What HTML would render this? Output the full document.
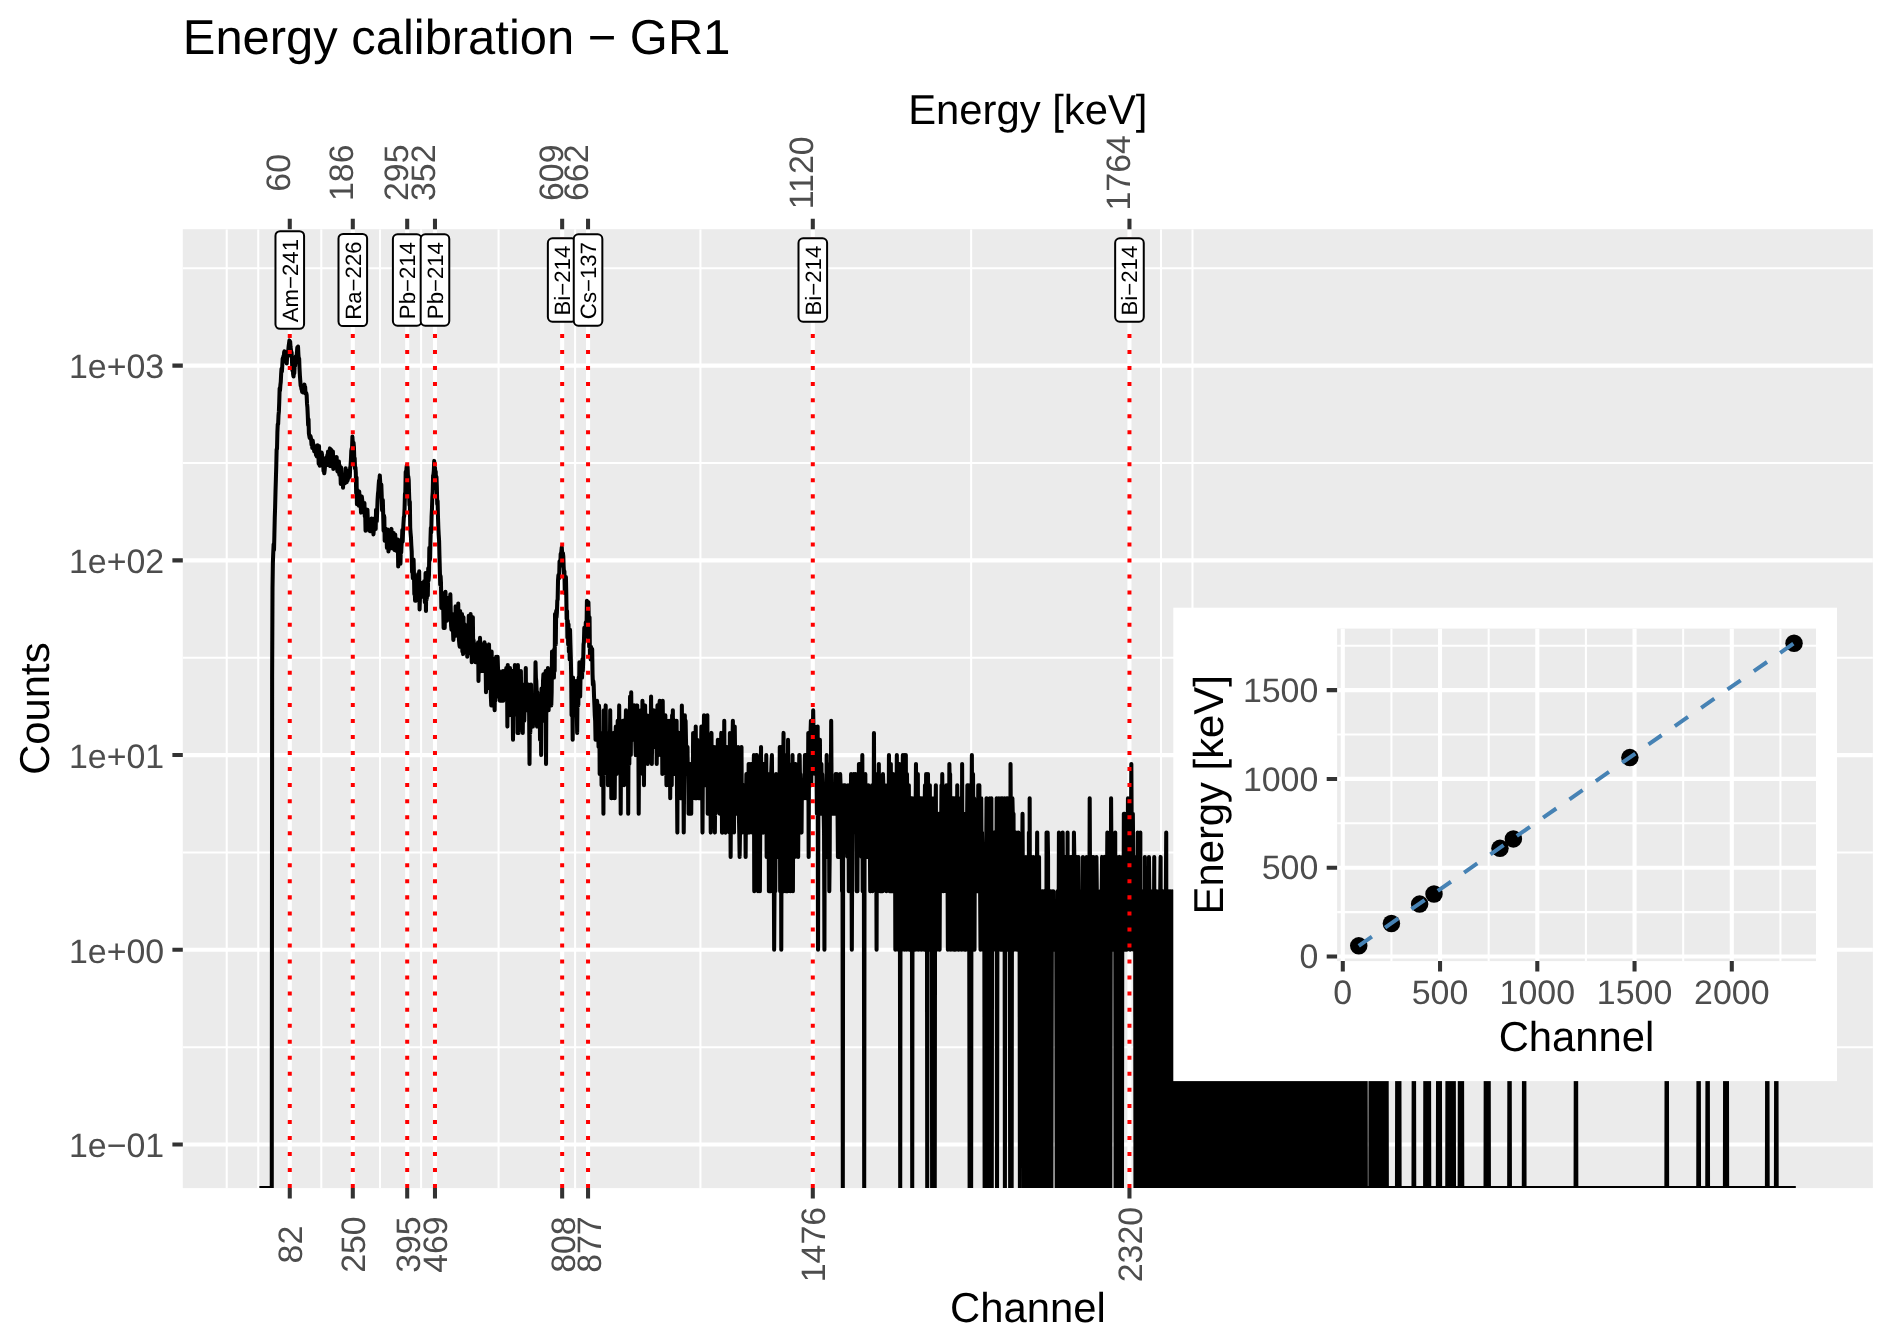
<!DOCTYPE html>
<html lang="en"><head><meta charset="utf-8"><title>Energy calibration - GR1</title>
<style>html,body{margin:0;padding:0;background:#fff;}body{width:1892px;height:1342px;overflow:hidden;font-family:"Liberation Sans",sans-serif;}svg{display:block;will-change:transform;}</style></head>
<body>
<svg width="1892" height="1342" viewBox="0 0 1892 1342" font-family='"Liberation Sans", sans-serif' text-rendering="geometricPrecision">
<rect x="0" y="0" width="1892" height="1342" fill="#ffffff"/>
<defs><clipPath id="pc"><rect x="182.8" y="229.2" width="1690.10" height="958.90"/></clipPath><clipPath id="ic"><rect x="1337.1" y="628.6" width="478.9" height="332.5"/></clipPath></defs>
<rect x="182.8" y="229.2" width="1690.10" height="958.90" fill="#EBEBEB"/>
<g clip-path="url(#pc)">
<path d="M226.73 229.2V1188.1M258.25 229.2V1188.1M321.28 229.2V1188.1M380.00 229.2V1188.1M421.09 229.2V1188.1M498.57 229.2V1188.1M575.11 229.2V1188.1M700.42 229.2V1188.1M971.13 229.2V1188.1M1160.98 229.2V1188.1M1192.50 229.2V1188.1M182.8 268.28H1872.9M182.8 463.00H1872.9M182.8 657.72H1872.9M182.8 852.44H1872.9M182.8 1047.16H1872.9" stroke="#fff" stroke-width="2.05" fill="none"/>
<path d="M289.77 229.2V1188.1M352.80 229.2V1188.1M407.20 229.2V1188.1M434.97 229.2V1188.1M562.16 229.2V1188.1M588.05 229.2V1188.1M812.80 229.2V1188.1M1129.46 229.2V1188.1M182.8 365.64H1872.9M182.8 560.36H1872.9M182.8 755.08H1872.9M182.8 949.80H1872.9M182.8 1144.52H1872.9" stroke="#fff" stroke-width="4.1" fill="none"/>
<path d="M259.38 1188.1L271.76 1188.1L272.13 677.6L272.51 588.1L272.88 562.9L273.26 552.3L273.63 544.2L274.01 550.0L274.38 535.0L274.76 518.0L275.13 507.0L275.51 491.4L275.88 479.2L276.26 466.3L276.63 449.3L277.01 449.0L277.38 432.6L277.76 424.1L278.14 424.1L278.51 415.4L278.89 411.4L279.26 401.7L279.64 388.2L280.01 390.6L280.39 385.1L280.76 382.1L281.14 374.1L281.51 368.7L281.89 371.7L282.26 366.3L282.64 358.5L283.01 362.3L283.39 356.2L283.76 358.0L284.14 352.3L284.51 351.3L284.89 352.5L285.26 351.9L285.64 356.3L286.01 357.7L286.39 356.1L286.76 363.5L287.14 355.7L287.52 355.0L287.89 356.2L288.27 350.5L288.64 346.3L289.02 343.5L289.39 340.4L289.77 341.3L290.14 341.5L290.52 346.8L290.89 349.5L291.27 352.0L291.64 352.5L292.02 361.9L292.39 370.5L292.77 368.9L293.14 374.1L293.52 376.5L293.89 371.9L294.27 373.4L294.64 366.4L295.02 366.1L295.39 362.0L295.77 356.3L296.14 362.1L296.52 360.9L296.90 353.0L297.27 347.6L297.65 349.2L298.02 346.6L298.40 354.6L298.77 359.1L299.15 358.5L299.52 368.6L299.90 375.6L300.27 380.6L300.65 385.6L301.02 386.0L301.40 388.8L301.77 389.6L302.15 391.9L302.52 390.1L302.90 391.1L303.27 392.5L303.65 390.2L304.02 385.6L304.40 384.6L304.77 387.0L305.15 386.9L305.52 393.5L305.90 393.0L306.28 393.0L306.65 395.1L307.03 403.9L307.40 407.3L307.78 415.3L308.15 425.3L308.53 419.3L308.90 433.4L309.28 435.8L309.65 438.0L310.03 437.4L310.40 436.0L310.78 437.4L311.15 439.8L311.53 444.8L311.90 440.8L312.28 447.9L312.65 440.4L313.03 443.1L313.40 447.5L313.78 445.1L314.15 451.1L314.53 447.2L314.90 451.6L315.28 449.7L315.66 451.6L316.03 454.9L316.41 455.4L316.78 456.4L317.16 456.6L317.53 445.3L317.91 457.1L318.28 448.1L318.66 463.6L319.03 446.1L319.41 462.3L319.78 465.8L320.16 456.9L320.53 455.9L320.91 456.4L321.28 462.8L321.66 452.5L322.03 454.7L322.41 462.8L322.78 460.7L323.16 463.1L323.53 471.2L323.91 471.2L324.28 473.3L324.66 470.3L325.04 465.8L325.41 461.7L325.79 459.7L326.16 457.6L326.54 459.7L326.91 459.4L327.29 455.1L327.66 462.0L328.04 451.6L328.41 465.2L328.79 461.2L329.16 462.3L329.54 456.9L329.91 448.4L330.29 466.1L330.66 464.4L331.04 457.9L331.41 449.9L331.79 458.4L332.16 456.6L332.54 460.7L332.91 451.6L333.29 468.9L333.66 464.4L334.04 459.9L334.42 465.5L334.79 466.1L335.17 457.6L335.54 467.2L335.92 460.2L336.29 458.1L336.67 457.1L337.04 468.6L337.42 471.2L337.79 471.8L338.17 464.1L338.54 465.0L338.92 461.5L339.29 474.8L339.67 465.5L340.04 468.6L340.42 474.2L340.79 483.9L341.17 467.5L341.54 474.8L341.92 474.5L342.29 475.1L342.67 474.5L343.04 487.7L343.42 475.1L343.80 476.1L344.17 477.0L344.55 481.2L344.92 483.2L345.30 479.9L345.67 468.3L346.05 482.5L346.42 478.3L346.80 482.2L347.17 475.4L347.55 480.5L347.92 478.6L348.30 470.9L348.67 477.9L349.05 477.3L349.42 473.3L349.80 476.7L350.17 467.7L350.55 465.8L350.92 459.9L351.30 450.9L351.67 448.6L352.05 448.1L352.42 436.6L352.80 442.3L353.18 446.6L353.55 442.7L353.93 447.2L354.30 459.1L354.68 458.1L355.05 468.6L355.43 467.5L355.80 472.7L356.18 493.3L356.55 477.6L356.93 504.3L357.30 496.0L357.68 490.3L358.05 495.2L358.43 498.8L358.80 505.6L359.18 491.4L359.55 496.4L359.93 501.7L360.30 505.2L360.68 505.2L361.05 512.6L361.43 502.2L361.80 496.4L362.18 499.7L362.56 504.3L362.93 502.2L363.31 509.3L363.68 508.3L364.06 508.8L364.43 503.0L364.81 516.5L365.18 513.0L365.56 530.7L365.93 509.3L366.31 510.7L366.68 511.6L367.06 519.6L367.43 509.7L367.81 520.1L368.18 519.6L368.56 526.6L368.93 522.2L369.31 530.7L369.68 521.7L370.06 526.1L370.43 531.3L370.81 521.7L371.18 523.3L371.56 518.5L371.94 525.0L372.31 522.8L372.69 527.2L373.06 522.2L373.44 534.4L373.81 530.1L374.19 518.5L374.56 523.8L374.94 523.8L375.31 524.4L375.69 528.9L376.06 509.7L376.44 513.0L376.81 521.1L377.19 510.7L377.56 500.1L377.94 494.1L378.31 491.0L378.69 484.6L379.06 480.2L379.44 480.2L379.81 475.4L380.19 481.9L380.56 487.4L380.94 496.0L381.32 484.6L381.69 494.8L382.07 510.2L382.44 504.8L382.82 500.1L383.19 514.5L383.57 530.7L383.94 515.5L384.32 517.5L384.69 540.8L385.07 536.2L385.44 528.4L385.82 532.5L386.19 541.5L386.57 538.2L386.94 547.8L387.32 541.5L387.69 529.5L388.07 533.7L388.44 551.5L388.82 536.2L389.19 543.5L389.57 532.5L389.94 543.5L390.32 544.9L390.70 548.5L391.07 535.6L391.45 528.9L391.82 541.5L392.20 538.8L392.57 534.4L392.95 536.2L393.32 546.4L393.70 533.1L394.07 549.3L394.45 550.0L394.82 546.4L395.20 534.4L395.57 540.8L395.95 544.2L396.32 550.8L396.70 540.1L397.07 543.5L397.45 550.8L397.82 539.5L398.20 566.5L398.57 547.1L398.95 550.8L399.32 560.4L399.70 540.8L400.08 554.6L400.45 563.8L400.83 547.1L401.20 552.3L401.58 544.2L401.95 540.8L402.33 530.1L402.70 541.5L403.08 530.7L403.45 523.8L403.83 517.5L404.20 516.0L404.58 508.3L404.95 494.1L405.33 492.2L405.70 471.8L406.08 476.1L406.45 468.6L406.83 465.5L407.20 475.4L407.58 466.9L407.95 476.4L408.33 476.7L408.70 479.9L409.08 493.7L409.46 505.2L409.83 501.7L410.21 527.8L410.58 533.1L410.96 537.5L411.33 545.6L411.71 551.5L412.08 572.1L412.46 568.3L412.83 578.2L413.21 570.2L413.58 559.5L413.96 574.1L414.33 594.2L414.71 587.0L415.08 600.8L415.46 599.4L415.83 600.8L416.21 578.2L416.58 585.8L416.96 589.3L417.33 581.4L417.71 583.6L418.08 574.1L418.46 595.5L418.84 589.3L419.21 571.2L419.59 609.4L419.96 598.1L420.34 590.5L420.71 591.7L421.09 585.8L421.46 595.5L421.84 589.3L422.21 587.0L422.59 596.8L422.96 582.5L423.71 582.5L424.09 581.4L424.46 590.5L424.84 602.2L425.21 598.1L425.59 573.1L425.96 610.9L426.34 578.2L426.71 599.4L427.09 591.7L427.46 573.1L427.84 595.5L428.22 568.3L428.59 580.3L428.97 575.1L429.34 547.8L429.72 560.4L430.09 557.9L430.47 539.5L430.84 527.8L431.22 532.5L431.59 516.5L431.97 508.8L432.34 497.2L432.72 491.8L433.09 475.7L433.47 474.5L433.84 470.6L434.22 460.9L434.59 467.2L434.97 467.7L435.34 473.6L435.72 471.5L436.09 488.1L436.47 476.7L436.84 486.7L437.22 504.3L437.60 500.9L437.97 516.5L438.35 527.8L438.72 535.0L439.10 540.8L439.47 556.2L439.85 570.2L440.22 584.7L440.60 576.1L440.97 582.5L441.35 607.9L441.72 606.4L442.10 603.6L442.47 598.1L442.85 594.2L443.22 607.9L443.60 627.9L443.97 606.4L444.35 593.0L444.72 627.9L445.10 605.0L445.47 591.7L445.85 620.7L446.22 609.4L446.60 606.4L446.98 620.7L447.35 617.3L447.73 598.1L448.10 617.3L448.48 605.0L448.85 609.4L449.23 610.9L449.60 610.9L449.98 599.4L450.35 594.2L450.73 610.9L451.10 626.0L451.48 629.8L451.85 622.4L452.23 614.0L452.60 629.8L452.98 629.8L453.35 640.0L453.73 635.8L454.10 627.9L454.48 626.0L454.85 620.7L455.23 631.7L455.60 606.4L455.98 635.8L456.36 620.7L456.73 612.5L457.11 606.4L457.48 617.3L457.86 615.7L458.23 603.6L458.61 631.7L458.98 640.0L459.36 644.4L459.73 646.8L460.11 610.9L460.48 620.7L460.86 637.8L461.23 617.3L461.61 644.4L461.98 614.0L462.36 651.6L462.73 633.7L463.11 654.1L463.48 617.3L463.86 651.6L464.23 627.9L464.61 624.2L464.98 626.0L465.36 627.9L465.74 635.8L466.11 629.8L466.49 633.7L466.86 635.8L467.24 656.7L467.61 627.9L467.99 631.7L468.36 646.8L468.74 615.7L469.11 633.7L469.49 649.1L469.86 642.2L470.24 651.6L470.61 614.0L470.99 654.1L471.36 629.8L471.74 662.2L472.11 637.8L472.49 656.7L472.86 617.3L473.24 656.7L473.61 640.0L473.99 649.1L474.36 651.6L474.74 644.4L475.12 646.8L475.49 662.2L475.87 654.1L476.24 644.4L476.62 659.4L476.99 662.2L477.37 659.4L477.74 651.6L478.12 642.2L478.49 681.0L478.87 646.8L479.24 671.1L479.62 668.0L479.99 637.8L480.37 649.1L480.74 654.1L481.12 671.1L481.49 651.6L481.87 665.0L482.24 668.0L482.62 644.4L482.99 646.8L483.37 656.7L483.74 651.6L484.12 671.1L484.50 642.2L484.87 662.2L485.25 644.4L485.62 662.2L486.00 692.3L486.37 674.3L486.75 659.4L487.12 668.0L487.50 665.0L487.87 646.8L488.25 674.3L488.62 668.0L489.00 644.4L489.37 665.0L489.75 688.4L490.12 651.6L490.50 665.0L490.87 696.5L491.25 705.4L491.62 651.6L492.00 671.1L492.37 665.0L492.75 684.6L493.12 665.0L493.50 668.0L493.88 659.4L494.25 700.8L494.63 710.2L495.00 688.4L495.38 700.8L495.75 681.0L496.13 656.7L496.50 688.4L496.88 662.2L497.25 677.6L497.63 656.7L498.00 668.0L498.38 696.5L498.75 688.4L499.13 671.1L499.50 674.3L499.88 700.8L500.25 688.4L500.63 700.8L501.00 700.8L501.38 684.6L501.75 696.5L502.13 700.8L502.50 681.0L502.88 671.1L503.26 700.8L503.63 684.6L504.01 671.1L504.38 681.0L504.76 677.6L505.13 681.0L505.51 696.5L505.88 688.4L506.26 668.0L506.63 684.6L507.01 677.6L507.38 726.6L507.76 665.0L508.13 692.3L508.51 715.3L508.88 692.3L509.26 715.3L509.63 692.3L510.01 668.0L510.38 684.6L510.76 688.4L511.13 700.8L511.51 688.4L511.88 692.3L512.26 671.1L512.64 700.8L513.01 739.7L513.39 677.6L513.76 696.5L514.14 696.5L514.51 710.2L514.89 665.0L515.26 700.8L515.64 681.0L516.01 688.4L516.39 668.0L516.76 715.3L517.14 677.6L517.51 732.9L517.89 665.0L518.26 715.3L518.64 732.9L519.01 688.4L519.39 674.3L519.76 720.8L520.14 705.4L520.51 700.8L520.89 671.1L521.26 710.2L521.64 688.4L522.02 688.4L522.39 692.3L522.77 732.9L523.14 696.5L523.52 688.4L523.89 684.6L524.27 720.8L524.64 705.4L525.02 688.4L525.39 700.8L525.77 668.0L526.14 710.2L526.52 700.8L526.89 705.4L527.27 710.2L527.64 700.8L528.02 700.8L528.39 684.6L528.77 692.3L529.14 715.3L529.52 764.0L529.89 705.4L530.27 732.9L530.64 696.5L531.02 684.6L531.40 715.3L531.77 715.3L532.15 700.8L532.52 715.3L532.90 726.6L533.27 705.4L533.65 696.5L534.02 696.5L534.40 715.3L534.77 715.3L535.15 696.5L535.52 662.2L535.90 677.6L536.27 681.0L536.65 692.3L537.02 726.6L537.40 692.3L537.77 720.8L538.15 720.8L538.52 700.8L538.90 715.3L539.27 726.6L539.65 696.5L540.02 739.7L540.40 732.9L540.78 705.4L541.15 755.1L541.53 688.4L541.90 700.8L542.28 720.8L542.65 700.8L543.03 681.0L543.40 674.3L543.78 720.8L544.15 696.5L544.53 684.6L544.90 696.5L545.28 688.4L545.65 671.1L546.03 764.0L546.40 692.3L546.78 705.4L547.15 692.3L547.53 710.2L547.90 668.0L548.28 688.4L548.65 710.2L549.03 677.6L549.40 688.4L549.78 681.0L550.16 677.6L550.53 681.0L550.91 692.3L551.28 705.4L551.66 692.3L552.03 651.6L552.41 674.3L552.78 677.6L553.16 671.1L553.53 659.4L553.91 677.6L554.28 649.1L554.66 671.1L555.03 614.0L555.41 633.7L555.78 644.4L556.16 610.9L556.53 617.3L556.91 612.5L557.28 600.8L557.66 599.4L558.03 580.3L558.41 575.1L558.78 578.2L559.16 578.2L559.54 561.2L559.91 564.7L560.29 565.6L560.66 553.9L561.04 555.4L561.41 550.8L561.79 547.1L562.16 553.9L562.54 554.6L562.91 553.1L563.29 556.2L563.66 566.5L564.04 574.1L564.41 571.2L564.79 593.0L565.16 587.0L565.54 585.8L565.91 577.1L566.29 594.2L566.66 619.0L567.04 610.9L567.41 637.8L567.79 620.7L568.16 644.4L568.54 624.2L568.92 651.6L569.29 633.7L569.67 659.4L570.04 629.8L570.42 644.4L570.79 656.7L571.17 674.3L571.54 715.3L571.92 684.6L572.29 688.4L572.67 739.7L573.04 677.6L573.42 705.4L573.79 710.2L574.17 692.3L574.54 688.4L574.92 715.3L575.29 692.3L575.67 688.4L576.04 681.0L576.42 696.5L576.79 710.2L577.17 732.9L577.54 696.5L577.92 684.6L578.30 705.4L578.67 677.6L579.05 692.3L579.42 662.2L579.80 696.5L580.17 696.5L580.55 674.3L580.92 671.1L581.30 662.2L581.67 671.1L582.05 677.6L582.42 659.4L582.80 671.1L583.17 662.2L583.55 644.4L583.92 642.2L584.30 627.9L584.67 633.7L585.05 637.8L585.42 633.7L585.80 622.4L586.17 626.0L586.55 626.0L586.92 600.8L587.30 602.2L587.68 626.0L588.05 606.4L588.43 602.2L588.80 620.7L589.18 646.8L589.55 617.3L589.93 656.7L590.30 649.1L590.68 659.4L591.05 646.8L591.43 651.6L591.80 654.1L592.18 649.1L592.55 674.3L592.93 684.6L593.30 681.0L593.68 684.6L594.05 696.5L594.43 705.4L594.80 715.3L595.18 720.8L595.55 739.7L595.93 705.4L596.30 720.8L596.68 705.4L597.06 700.8L597.43 705.4L597.81 720.8L598.18 732.9L598.56 747.0L598.93 705.4L599.31 710.2L599.68 774.0L600.06 774.0L600.43 739.7L600.81 755.1L601.18 732.9L601.56 785.2L601.93 785.2L602.31 732.9L602.68 732.9L603.06 739.7L603.43 813.7L603.81 710.2L604.18 774.0L604.56 764.0L604.93 732.9L605.31 739.7L605.68 705.4L606.06 764.0L606.44 747.0L606.81 739.7L607.19 755.1L607.56 732.9L607.94 785.2L608.31 747.0L608.69 739.7L609.06 747.0L609.44 755.1L609.81 764.0L610.19 710.2L610.56 755.1L610.94 732.9L611.31 798.3L611.69 798.3L612.06 739.7L612.44 774.0L612.81 764.0L613.19 747.0L613.56 739.7L613.94 732.9L614.31 747.0L614.69 798.3L615.06 755.1L615.44 739.7L615.82 726.6L616.19 747.0L616.57 774.0L616.94 739.7L617.32 764.0L617.69 720.8L618.07 764.0L618.44 739.7L618.82 739.7L619.19 705.4L619.57 764.0L619.94 747.0L620.32 726.6L620.69 813.7L621.07 747.0L621.44 747.0L621.82 739.7L622.19 764.0L622.57 739.7L622.94 720.8L623.32 739.7L623.69 720.8L624.07 785.2L624.44 774.0L624.82 747.0L625.20 774.0L625.57 732.9L625.95 710.2L626.32 755.1L626.70 739.7L627.07 747.0L627.45 739.7L627.82 726.6L628.20 813.7L628.57 739.7L628.95 720.8L629.32 764.0L629.70 726.6L630.07 696.5L630.45 720.8L630.82 755.1L631.20 692.3L631.57 726.6L631.95 720.8L632.32 726.6L632.70 732.9L633.07 715.3L633.45 739.7L633.82 720.8L634.20 705.4L634.58 720.8L634.95 705.4L635.33 739.7L635.70 755.1L636.08 720.8L636.45 720.8L636.83 726.6L637.20 705.4L637.58 726.6L637.95 755.1L638.33 732.9L638.70 813.7L639.08 747.0L639.45 764.0L639.83 774.0L640.20 774.0L640.58 726.6L640.95 710.2L641.33 764.0L641.70 764.0L642.08 755.1L642.45 700.8L642.83 755.1L643.20 726.6L643.58 720.8L643.96 785.2L644.33 726.6L644.71 710.2L645.08 705.4L645.46 726.6L645.83 747.0L646.21 726.6L646.58 715.3L646.96 732.9L647.33 732.9L647.71 764.0L648.08 747.0L648.46 726.6L648.83 720.8L649.21 726.6L649.58 720.8L649.96 715.3L650.33 720.8L650.71 732.9L651.08 696.5L651.46 747.0L651.83 764.0L652.21 732.9L652.58 720.8L652.96 726.6L653.34 739.7L653.71 710.2L654.09 726.6L654.46 739.7L654.84 747.0L655.21 747.0L655.59 732.9L655.96 726.6L656.34 720.8L656.71 764.0L657.09 726.6L657.46 705.4L657.84 720.8L658.21 732.9L658.59 710.2L658.96 755.1L659.34 705.4L659.71 700.8L660.09 739.7L660.46 715.3L660.84 755.1L661.21 755.1L661.59 747.0L661.96 715.3L662.34 774.0L662.72 700.8L663.09 739.7L663.47 732.9L663.84 720.8L664.22 715.3L664.59 720.8L664.97 764.0L665.34 715.3L665.72 774.0L666.09 747.0L666.47 785.2L666.84 720.8L667.22 726.6L667.59 739.7L667.97 764.0L668.34 732.9L668.72 755.1L669.09 720.8L669.47 785.2L669.84 747.0L670.22 798.3L670.59 732.9L670.97 720.8L671.34 747.0L671.72 785.2L672.10 715.3L672.47 747.0L672.85 710.2L673.22 774.0L673.60 755.1L673.97 764.0L674.35 747.0L674.72 739.7L675.10 720.8L675.47 747.0L675.85 774.0L676.22 747.0L676.60 720.8L676.97 785.2L677.35 832.6L677.72 747.0L678.10 764.0L678.47 739.7L678.85 732.9L679.22 764.0L679.60 732.9L679.97 732.9L680.35 798.3L680.72 774.0L681.10 764.0L681.48 798.3L681.85 705.4L682.23 747.0L682.60 732.9L682.98 747.0L683.35 755.1L683.73 832.6L684.10 785.2L684.48 755.1L684.85 715.3L685.23 774.0L685.60 720.8L685.98 739.7L686.35 755.1L686.73 747.0L687.10 755.1L687.48 747.0L687.85 774.0L688.23 764.0L688.60 813.7L688.98 764.0L689.35 813.7L689.73 774.0L690.10 813.7L690.48 785.2L690.86 764.0L691.23 813.7L691.61 764.0L691.98 774.0L692.36 785.2L692.73 798.3L693.11 732.9L693.48 747.0L693.86 732.9L694.23 747.0L694.61 732.9L694.98 798.3L695.36 798.3L695.73 726.6L696.11 774.0L696.48 764.0L696.86 798.3L697.23 739.7L697.61 755.1L697.98 785.2L698.36 755.1L698.73 798.3L699.11 785.2L699.48 785.2L699.86 755.1L700.24 798.3L700.61 774.0L700.99 755.1L701.36 726.6L701.74 764.0L702.11 774.0L702.49 832.6L702.86 774.0L703.24 774.0L703.61 764.0L703.99 715.3L704.36 747.0L704.74 747.0L705.11 785.2L705.49 732.9L705.86 774.0L706.24 785.2L706.61 764.0L706.99 720.8L707.36 715.3L707.74 813.7L708.11 785.2L708.49 764.0L708.86 774.0L709.24 785.2L709.62 785.2L709.99 764.0L710.37 764.0L710.74 832.6L711.12 774.0L711.49 732.9L711.87 813.7L712.24 785.2L712.62 785.2L712.99 798.3L713.37 764.0L713.74 747.0L714.12 747.0L714.49 798.3L714.87 832.6L715.24 785.2L715.62 813.7L715.99 798.3L716.37 747.0L716.74 764.0L717.49 764.0L717.87 739.7L718.24 764.0L718.62 774.0L719.37 774.0L719.75 813.7L720.12 755.1L720.50 774.0L720.87 764.0L721.25 732.9L721.62 755.1L722.00 832.6L722.37 832.6L722.75 747.0L723.12 774.0L723.50 785.2L723.87 798.3L724.25 720.8L724.62 785.2L725.00 798.3L725.37 832.6L725.75 832.6L726.12 755.1L726.50 755.1L726.87 747.0L727.25 774.0L727.62 764.0L728.00 785.2L728.38 764.0L728.75 813.7L729.13 774.0L729.50 832.6L729.88 732.9L730.25 774.0L730.63 856.9L731.00 798.3L731.38 747.0L731.75 764.0L732.13 764.0L732.50 739.7L732.88 720.8L733.25 774.0L733.63 747.0L734.00 832.6L734.38 739.7L734.75 726.6L735.13 755.1L735.50 755.1L735.88 747.0L736.25 764.0L736.63 755.1L737.00 798.3L737.38 813.7L737.76 785.2L738.13 747.0L738.51 774.0L738.88 813.7L739.26 832.6L739.63 856.9L740.01 832.6L740.38 774.0L740.76 774.0L741.13 785.2L741.51 747.0L741.88 832.6L742.26 813.7L742.63 813.7L743.01 785.2L743.38 813.7L743.76 785.2L744.13 798.3L744.51 785.2L744.88 785.2L745.26 798.3L745.63 856.9L746.01 798.3L746.38 774.0L746.76 832.6L747.14 832.6L747.51 813.7L747.89 813.7L748.26 832.6L748.64 764.0L749.01 798.3L749.39 832.6L749.76 764.0L750.14 798.3L750.51 798.3L750.89 813.7L751.26 798.3L751.64 764.0L752.01 785.2L752.39 832.6L752.76 832.6L753.14 785.2L753.51 798.3L753.89 755.1L754.26 891.2L754.64 813.7L755.01 785.2L755.39 774.0L755.76 813.7L756.14 755.1L756.52 813.7L756.89 755.1L757.27 832.6L757.64 856.9L758.02 891.2L758.39 832.6L758.77 832.6L759.14 856.9L759.52 785.2L759.89 891.2L760.27 813.7L760.64 813.7L761.02 747.0L761.39 798.3L761.77 813.7L762.14 798.3L762.52 764.0L762.89 832.6L763.27 832.6L763.64 764.0L764.02 764.0L764.39 774.0L764.77 798.3L765.14 798.3L765.52 774.0L765.90 813.7L766.27 755.1L766.65 856.9L767.02 832.6L767.40 856.9L767.77 785.2L768.15 832.6L768.52 798.3L768.90 891.2L769.27 774.0L769.65 891.2L770.02 785.2L770.40 798.3L770.77 891.2L771.15 774.0L771.52 764.0L771.90 755.1L772.27 798.3L772.65 856.9L773.02 813.7L773.40 785.2L773.77 856.9L774.15 949.8L774.52 891.2L774.90 785.2L775.28 891.2L775.65 832.6L776.03 774.0L776.40 798.3L776.78 785.2L777.15 813.7L777.53 798.3L777.90 832.6L778.28 856.9L778.65 813.7L779.03 856.9L779.40 813.7L779.78 747.0L780.15 891.2L780.53 832.6L780.90 747.0L781.28 949.8L781.65 798.3L782.03 832.6L782.40 813.7L782.78 832.6L783.15 774.0L783.53 732.9L783.90 891.2L784.28 832.6L784.66 813.7L785.03 755.1L785.41 764.0L785.78 891.2L786.16 891.2L786.53 798.3L786.91 785.2L787.28 785.2L787.66 891.2L788.03 739.7L788.41 813.7L788.78 764.0L789.16 798.3L789.53 832.6L789.91 856.9L790.28 891.2L790.66 785.2L791.03 832.6L791.41 856.9L791.78 856.9L792.16 832.6L792.53 755.1L792.91 891.2L793.28 785.2L793.66 856.9L794.04 785.2L794.41 798.3L794.79 856.9L795.16 764.0L795.54 764.0L795.91 813.7L796.29 832.6L796.66 774.0L797.04 785.2L797.41 832.6L797.79 813.7L798.16 856.9L798.54 798.3L798.91 785.2L799.29 755.1L799.66 755.1L800.04 785.2L800.41 774.0L800.79 785.2L801.16 813.7L801.54 832.6L801.91 785.2L802.29 785.2L802.66 798.3L803.04 798.3L803.42 785.2L803.79 798.3L804.17 798.3L804.54 785.2L804.92 755.1L805.29 774.0L805.67 755.1L806.04 798.3L806.42 785.2L806.79 774.0L807.17 798.3L807.54 755.1L807.92 798.3L808.29 732.9L808.67 856.9L809.04 739.7L809.42 755.1L809.79 764.0L810.17 774.0L810.54 732.9L810.92 720.8L811.29 785.2L811.67 732.9L812.04 732.9L812.42 720.8L812.80 739.7L813.17 710.2L813.55 732.9L813.92 732.9L814.30 726.6L814.67 732.9L815.05 774.0L815.42 732.9L815.80 764.0L816.17 764.0L816.55 774.0L816.92 813.7L817.30 798.3L817.67 726.6L818.05 949.8L818.42 774.0L818.80 798.3L819.17 747.0L819.55 798.3L819.92 739.7L820.30 813.7L820.67 785.2L821.05 813.7L821.42 764.0L821.80 798.3L822.18 774.0L822.55 785.2L822.93 813.7L823.30 798.3L823.68 813.7L824.05 832.6L824.43 949.8L824.80 785.2L825.18 856.9L825.55 798.3L825.93 856.9L826.30 813.7L826.68 755.1L827.05 798.3L827.43 813.7L827.80 856.9L828.18 774.0L828.93 774.0L829.30 891.2L829.68 856.9L830.05 764.0L830.43 813.7L830.80 798.3L831.18 720.8L831.56 785.2L831.93 798.3L832.31 813.7L832.68 798.3L833.06 813.7L833.43 813.7L833.81 798.3L834.18 813.7L834.56 798.3L834.93 798.3L835.31 813.7L835.68 774.0L836.06 798.3L836.43 798.3L836.81 774.0L837.18 785.2L837.56 813.7L837.93 856.9L838.31 785.2L838.68 798.3L839.06 813.7L839.43 813.7L839.81 832.6L840.18 774.0L840.56 785.2L840.94 856.9L841.31 856.9L841.69 832.6L842.06 891.2L842.44 785.2L842.81 1188.1L843.19 785.2L843.56 856.9L843.94 832.6L844.31 785.2L844.69 813.7L845.06 785.2L845.44 832.6L845.81 813.7L846.19 813.7L846.56 798.3L846.94 813.7L847.31 813.7L847.69 856.9L848.06 785.2L848.44 798.3L848.81 891.2L849.19 785.2L849.94 785.2L850.32 798.3L850.69 813.7L851.07 774.0L851.44 832.6L851.82 949.8L852.19 856.9L852.57 785.2L852.94 798.3L853.32 832.6L853.69 774.0L854.07 813.7L854.44 785.2L854.82 813.7L855.19 813.7L855.57 774.0L855.94 798.3L856.32 813.7L856.69 891.2L857.07 832.6L857.44 891.2L857.82 785.2L858.19 832.6L858.57 832.6L858.94 764.0L859.32 832.6L859.70 813.7L860.07 774.0L860.45 764.0L860.82 764.0L861.20 832.6L861.57 856.9L861.95 798.3L862.32 755.1L862.70 891.2L863.07 798.3L863.45 856.9L863.82 774.0L864.20 1188.1L864.57 832.6L864.95 832.6L865.32 774.0L865.70 832.6L866.07 856.9L866.45 813.7L866.82 832.6L867.20 798.3L867.57 813.7L867.95 832.6L868.32 785.2L868.70 856.9L869.08 832.6L869.45 813.7L869.83 832.6L870.20 891.2L870.58 891.2L870.95 798.3L871.70 798.3L872.08 785.2L872.45 891.2L872.83 813.7L873.20 785.2L873.58 856.9L873.95 732.9L874.33 813.7L874.70 813.7L875.08 832.6L875.45 832.6L875.83 774.0L876.20 832.6L876.58 949.8L876.95 774.0L877.33 832.6L877.70 891.2L878.08 798.3L878.46 832.6L878.83 764.0L879.21 832.6L879.58 785.2L879.96 891.2L880.33 798.3L880.71 832.6L881.08 856.9L881.46 891.2L881.83 813.7L882.21 832.6L882.58 891.2L882.96 774.0L883.33 785.2L883.71 813.7L884.08 856.9L884.46 798.3L884.83 785.2L885.21 798.3L885.58 813.7L885.96 798.3L886.33 891.2L886.71 798.3L887.08 832.6L887.46 785.2L887.84 813.7L888.21 856.9L888.59 832.6L888.96 755.1L889.34 856.9L889.71 891.2L890.09 798.3L890.46 832.6L890.84 764.0L891.21 891.2L891.59 798.3L891.96 891.2L892.34 798.3L892.71 813.7L893.09 774.0L893.46 891.2L893.84 891.2L894.21 832.6L894.59 891.2L894.96 798.3L895.34 949.8L895.71 813.7L896.09 891.2L896.46 813.7L896.84 755.1L897.22 813.7L897.59 891.2L897.97 832.6L898.34 949.8L898.72 856.9L899.09 774.0L899.47 764.0L899.84 832.6L900.22 1188.1L900.59 832.6L900.97 785.2L901.34 949.8L901.72 832.6L902.09 785.2L902.47 891.2L902.84 755.1L903.22 813.7L903.59 856.9L903.97 813.7L904.34 949.8L904.72 755.1L905.09 785.2L905.47 832.6L905.84 755.1L906.22 949.8L906.60 856.9L906.97 774.0L907.35 813.7L907.72 856.9L908.10 832.6L908.47 813.7L908.85 785.2L909.22 949.8L909.60 856.9L909.97 798.3L910.35 798.3L910.72 813.7L911.10 798.3L911.47 813.7L911.85 798.3L912.22 1188.1L912.60 832.6L912.97 832.6L913.35 856.9L913.72 798.3L914.10 856.9L914.47 798.3L914.85 832.6L915.22 949.8L915.60 813.7L915.98 764.0L916.35 856.9L916.73 798.3L917.10 832.6L917.48 774.0L917.85 774.0L918.23 949.8L918.60 832.6L918.98 798.3L919.35 856.9L919.73 891.2L920.10 798.3L920.85 798.3L921.23 949.8L921.60 891.2L921.98 798.3L922.35 832.6L922.73 856.9L923.10 813.7L923.48 813.7L923.85 832.6L924.23 949.8L924.60 813.7L924.98 785.2L925.36 832.6L925.73 856.9L926.11 774.0L926.48 856.9L926.86 798.3L927.23 1188.1L927.61 856.9L927.98 774.0L928.36 891.2L928.73 856.9L929.11 856.9L929.48 785.2L929.86 785.2L930.23 949.8L930.61 798.3L930.98 891.2L931.36 832.6L931.73 798.3L932.11 1188.1L932.48 891.2L932.86 832.6L933.23 949.8L933.61 813.7L933.98 798.3L934.36 813.7L934.74 1188.1L935.11 856.9L935.49 813.7L935.86 785.2L936.24 949.8L936.61 813.7L936.99 813.7L937.36 856.9L937.74 813.7L938.11 856.9L938.49 832.6L938.86 813.7L939.24 949.8L939.61 949.8L939.99 856.9L940.36 832.6L940.74 856.9L941.11 832.6L941.49 785.2L941.86 856.9L942.24 774.0L942.61 813.7L942.99 891.2L943.36 891.2L943.74 798.3L944.12 832.6L944.49 813.7L944.87 856.9L945.24 813.7L945.62 832.6L945.99 891.2L946.37 785.2L946.74 856.9L947.12 832.6L947.49 856.9L947.87 949.8L948.24 813.7L948.62 891.2L948.99 856.9L949.37 764.0L949.74 785.2L950.12 774.0L950.49 856.9L950.87 949.8L951.24 891.2L951.62 832.6L951.99 856.9L952.37 798.3L952.74 798.3L953.12 813.7L953.50 813.7L953.87 949.8L954.25 798.3L954.62 832.6L955.00 832.6L955.37 949.8L955.75 856.9L956.12 813.7L956.50 832.6L956.87 856.9L957.25 785.2L957.62 856.9L958.00 813.7L958.37 949.8L958.75 949.8L959.12 891.2L959.50 832.6L959.87 832.6L960.25 813.7L960.62 798.3L961.00 832.6L961.37 856.9L961.75 949.8L962.12 764.0L962.50 891.2L962.88 856.9L963.25 813.7L963.63 856.9L964.00 813.7L964.38 856.9L964.75 949.8L965.13 832.6L965.50 856.9L965.88 949.8L966.25 891.2L966.63 832.6L967.00 832.6L967.38 785.2L967.75 949.8L968.13 785.2L968.50 832.6L968.88 832.6L969.25 949.8L969.63 1188.1L970.00 785.2L970.38 891.2L970.75 832.6L971.13 1188.1L971.50 813.7L971.88 755.1L972.26 891.2L972.63 949.8L973.01 774.0L973.38 813.7L973.76 949.8L974.13 798.3L974.51 949.8L974.88 813.7L975.26 813.7L975.63 891.2L976.01 891.2L976.38 856.9L977.13 856.9L977.51 891.2L977.88 856.9L978.26 785.2L978.63 798.3L979.01 813.7L979.38 785.2L979.76 891.2L980.13 891.2L980.51 949.8L980.88 856.9L981.26 798.3L981.64 856.9L982.01 832.6L982.39 856.9L982.76 856.9L983.14 949.8L983.51 856.9L984.26 856.9L984.64 1188.1L985.01 949.8L985.39 856.9L985.76 891.2L986.14 856.9L986.51 798.3L986.89 1188.1L987.26 891.2L987.64 856.9L988.01 949.8L988.39 813.7L988.76 891.2L989.14 1188.1L989.51 856.9L989.89 798.3L990.26 856.9L990.64 891.2L991.02 949.8L991.39 798.3L991.77 1188.1L992.14 832.6L992.52 856.9L992.89 832.6L993.27 949.8L993.64 891.2L994.02 832.6L994.39 832.6L994.77 856.9L995.52 856.9L995.89 891.2L996.27 949.8L996.64 798.3L997.02 1188.1L997.39 949.8L998.52 949.8L998.89 798.3L999.27 813.7L999.64 832.6L1000.02 813.7L1000.40 949.8L1000.77 813.7L1001.15 798.3L1001.52 856.9L1001.90 949.8L1002.27 798.3L1002.65 832.6L1003.02 856.9L1003.40 832.6L1003.77 832.6L1004.15 891.2L1004.52 798.3L1004.90 1188.1L1005.27 856.9L1005.65 949.8L1006.02 949.8L1006.40 856.9L1006.77 798.3L1007.15 949.8L1007.52 798.3L1007.90 891.2L1008.27 949.8L1008.65 949.8L1009.02 832.6L1009.40 949.8L1009.78 856.9L1010.15 1188.1L1010.53 764.0L1010.90 832.6L1011.28 891.2L1011.65 1188.1L1012.03 832.6L1012.40 798.3L1012.78 813.7L1013.15 891.2L1013.53 813.7L1013.90 949.8L1014.28 832.6L1014.65 856.9L1015.03 891.2L1015.40 891.2L1015.78 832.6L1016.15 891.2L1016.53 891.2L1016.90 949.8L1017.28 891.2L1017.65 949.8L1018.03 832.6L1018.40 832.6L1018.78 949.8L1019.16 949.8L1019.53 856.9L1019.91 1188.1L1020.28 856.9L1021.03 856.9L1021.41 891.2L1021.78 949.8L1022.16 856.9L1022.53 813.7L1022.91 891.2L1023.28 891.2L1023.66 949.8L1024.03 1188.1L1024.41 949.8L1024.78 891.2L1025.16 891.2L1025.53 949.8L1025.91 856.9L1026.28 949.8L1026.66 1188.1L1027.03 856.9L1027.41 1188.1L1027.78 949.8L1028.16 949.8L1028.54 1188.1L1028.91 832.6L1029.29 1188.1L1029.66 798.3L1030.04 949.8L1030.41 1188.1L1030.79 891.2L1031.16 891.2L1031.54 949.8L1031.91 856.9L1032.29 949.8L1032.66 949.8L1033.04 1188.1L1033.41 856.9L1033.79 1188.1L1034.16 891.2L1035.29 891.2L1035.66 949.8L1036.04 891.2L1036.41 1188.1L1036.79 891.2L1037.16 832.6L1037.54 949.8L1037.92 949.8L1038.29 1188.1L1038.67 891.2L1039.04 856.9L1039.42 949.8L1039.79 891.2L1040.17 1188.1L1040.54 949.8L1041.29 949.8L1041.67 1188.1L1042.04 891.2L1042.42 891.2L1042.79 949.8L1043.17 891.2L1043.54 1188.1L1043.92 949.8L1044.29 891.2L1044.67 1188.1L1045.04 949.8L1045.79 949.8L1046.17 1188.1L1046.54 832.6L1046.92 949.8L1047.30 1188.1L1047.67 832.6L1048.05 856.9L1048.42 1188.1L1048.80 1188.1L1049.17 949.8L1049.55 891.2L1050.67 891.2L1051.05 1188.1L1051.42 1188.1L1051.80 949.8L1052.17 891.2L1052.55 949.8L1052.92 949.8L1053.30 891.2L1053.67 949.8L1056.30 949.8L1056.68 1188.1L1057.05 1188.1L1057.43 891.2L1057.80 949.8L1058.55 949.8L1058.93 832.6L1059.30 949.8L1059.68 1188.1L1060.05 1188.1L1060.43 949.8L1060.80 949.8L1061.18 891.2L1061.55 949.8L1061.93 1188.1L1062.30 891.2L1062.68 832.6L1063.05 891.2L1063.43 891.2L1063.80 949.8L1064.18 1188.1L1064.55 891.2L1064.93 949.8L1065.30 856.9L1065.68 856.9L1066.06 949.8L1066.43 856.9L1066.81 1188.1L1067.18 1188.1L1067.56 832.6L1067.93 1188.1L1068.31 1188.1L1068.68 891.2L1069.06 949.8L1069.43 949.8L1069.81 891.2L1070.18 1188.1L1070.56 856.9L1070.93 891.2L1071.31 949.8L1071.68 856.9L1072.06 949.8L1072.43 1188.1L1072.81 949.8L1073.56 949.8L1073.93 832.6L1074.31 856.9L1074.68 1188.1L1075.06 949.8L1075.44 1188.1L1075.81 949.8L1076.19 949.8L1076.56 856.9L1076.94 1188.1L1077.31 891.2L1077.69 949.8L1078.06 949.8L1078.44 856.9L1078.81 891.2L1079.19 949.8L1079.56 1188.1L1079.94 1188.1L1080.31 949.8L1080.69 1188.1L1081.06 891.2L1081.44 1188.1L1081.81 891.2L1082.19 1188.1L1082.56 1188.1L1082.94 856.9L1083.31 949.8L1083.69 1188.1L1084.06 949.8L1084.82 949.8L1085.19 891.2L1085.94 891.2L1086.32 1188.1L1086.69 856.9L1087.07 949.8L1087.44 891.2L1087.82 1188.1L1088.19 856.9L1088.57 949.8L1088.94 891.2L1089.32 949.8L1089.69 798.3L1090.07 891.2L1090.44 1188.1L1090.82 891.2L1091.19 1188.1L1091.57 856.9L1092.32 856.9L1092.69 891.2L1093.07 1188.1L1093.44 856.9L1093.82 949.8L1094.20 891.2L1094.57 949.8L1094.95 891.2L1095.32 949.8L1095.70 1188.1L1096.07 949.8L1096.45 856.9L1096.82 891.2L1097.20 949.8L1097.57 891.2L1097.95 949.8L1098.32 1188.1L1098.70 949.8L1099.82 949.8L1100.20 891.2L1100.57 1188.1L1100.95 949.8L1101.32 891.2L1101.70 891.2L1102.07 856.9L1102.45 949.8L1102.82 1188.1L1103.20 891.2L1103.58 949.8L1103.95 949.8L1104.33 891.2L1104.70 856.9L1105.08 949.8L1105.45 1188.1L1105.83 1188.1L1106.20 891.2L1106.58 949.8L1106.95 891.2L1107.33 832.6L1107.70 1188.1L1108.08 1188.1L1108.45 949.8L1108.83 891.2L1109.20 949.8L1109.58 1188.1L1109.95 949.8L1110.33 1188.1L1110.70 949.8L1111.08 798.3L1111.45 856.9L1111.83 949.8L1112.96 949.8L1113.33 891.2L1113.71 949.8L1114.46 949.8L1114.83 891.2L1115.21 832.6L1115.58 1188.1L1115.96 949.8L1116.33 1188.1L1116.71 949.8L1117.08 856.9L1117.46 891.2L1117.83 949.8L1118.21 1188.1L1118.58 1188.1L1118.96 949.8L1119.33 891.2L1119.71 856.9L1120.08 891.2L1120.46 891.2L1120.83 949.8L1121.21 1188.1L1121.58 949.8L1121.96 1188.1L1122.34 856.9L1122.71 856.9L1123.09 949.8L1123.46 949.8L1123.84 813.7L1124.21 856.9L1124.59 813.7L1124.96 856.9L1125.34 949.8L1125.71 832.6L1126.09 813.7L1126.46 813.7L1126.84 949.8L1127.21 856.9L1127.59 891.2L1127.96 798.3L1128.34 813.7L1128.71 856.9L1129.09 813.7L1129.46 891.2L1129.84 856.9L1130.21 949.8L1130.59 856.9L1130.96 832.6L1131.34 764.0L1131.72 832.6L1132.09 856.9L1132.47 891.2L1132.84 813.7L1133.22 856.9L1133.59 949.8L1133.97 891.2L1134.72 891.2L1135.09 856.9L1135.47 1188.1L1135.84 949.8L1136.97 949.8L1137.34 1188.1L1137.72 832.6L1138.09 856.9L1138.47 949.8L1138.84 949.8L1139.22 1188.1L1139.59 949.8L1139.97 949.8L1140.34 832.6L1140.72 1188.1L1141.10 949.8L1141.47 1188.1L1141.85 1188.1L1142.22 949.8L1142.60 949.8L1142.97 1188.1L1143.35 891.2L1143.72 949.8L1144.10 1188.1L1144.47 1188.1L1144.85 856.9L1145.22 1188.1L1145.60 1188.1L1145.97 949.8L1146.35 949.8L1146.72 1188.1L1147.10 1188.1L1147.47 891.2L1147.85 949.8L1148.22 1188.1L1148.60 949.8L1148.97 856.9L1149.35 891.2L1149.72 1188.1L1150.85 1188.1L1151.23 949.8L1151.60 1188.1L1151.98 1188.1L1152.35 891.2L1153.10 891.2L1153.48 1188.1L1153.85 949.8L1154.23 856.9L1154.60 1188.1L1154.98 891.2L1155.35 891.2L1155.73 1188.1L1156.10 949.8L1156.48 1188.1L1156.85 891.2L1157.23 949.8L1157.60 1188.1L1157.98 1188.1L1158.35 949.8L1159.10 949.8L1159.48 1188.1L1159.86 891.2L1160.23 891.2L1160.61 856.9L1160.98 1188.1L1162.11 1188.1L1162.48 949.8L1162.86 891.2L1163.23 1188.1L1163.61 1188.1L1163.98 949.8L1164.36 1188.1L1165.11 1188.1L1165.48 891.2L1165.86 891.2L1166.23 832.6L1166.61 1188.1L1166.98 1188.1L1167.36 949.8L1167.73 949.8L1168.11 1188.1L1168.48 1188.1L1168.86 891.2L1169.24 891.2L1169.61 1188.1L1169.99 949.8L1170.36 949.8L1170.74 891.2L1171.11 1188.1L1171.49 949.8L1171.86 1188.1L1172.24 891.2L1172.61 949.8L1172.99 1188.1L1173.36 949.8L1173.74 1188.1L1174.11 949.8L1174.49 1188.1L1174.86 1188.1L1175.24 891.2L1175.61 1188.1L1175.99 1188.1L1176.36 949.8L1177.11 949.8L1177.49 1188.1L1177.86 949.8L1178.24 1188.1L1178.62 949.8L1178.99 1188.1L1179.37 949.8L1179.74 1188.1L1180.12 949.8L1180.49 1188.1L1180.87 949.8L1181.62 949.8L1181.99 1188.1L1182.37 949.8L1182.74 856.9L1183.12 1188.1L1183.49 1188.1L1183.87 891.2L1184.24 949.8L1184.62 1188.1L1184.99 891.2L1185.37 1188.1L1186.49 1188.1L1186.87 949.8L1187.62 949.8L1188.00 1188.1L1188.37 1188.1L1188.75 949.8L1189.12 1188.1L1189.50 1188.1L1189.87 891.2L1190.62 891.2L1191.00 949.8L1191.37 1188.1L1191.75 1188.1L1192.12 949.8L1192.50 1188.1L1192.87 891.2L1193.25 949.8L1193.62 1188.1L1194.00 1188.1L1194.37 891.2L1194.75 1188.1L1195.12 1188.1L1195.50 949.8L1195.87 1188.1L1196.25 1188.1L1196.62 832.6L1197.00 1188.1L1197.38 949.8L1198.13 949.8L1198.50 1188.1L1198.88 856.9L1199.25 949.8L1199.63 891.2L1200.00 949.8L1200.38 1188.1L1200.75 1188.1L1201.13 891.2L1201.50 1188.1L1202.63 1188.1L1203.00 949.8L1203.75 949.8L1204.13 1188.1L1205.25 1188.1L1205.63 949.8L1206.00 949.8L1206.38 1188.1L1206.76 1188.1L1207.13 949.8L1207.51 1188.1L1207.88 1188.1L1208.26 891.2L1208.63 949.8L1209.01 1188.1L1209.76 1188.1L1210.13 891.2L1210.51 1188.1L1210.88 1188.1L1211.26 949.8L1211.63 1188.1L1212.01 1188.1L1212.38 856.9L1212.76 1188.1L1213.13 949.8L1213.51 1188.1L1213.88 949.8L1214.26 949.8L1214.63 1188.1L1215.01 949.8L1215.38 1188.1L1216.14 1188.1L1216.51 891.2L1216.89 1188.1L1217.26 1188.1L1217.64 856.9L1218.01 856.9L1218.39 1188.1L1218.76 1188.1L1219.14 891.2L1219.51 949.8L1219.89 1188.1L1220.26 949.8L1220.64 1188.1L1221.01 891.2L1221.39 949.8L1221.76 1188.1L1222.14 1188.1L1222.51 949.8L1222.89 949.8L1223.26 1188.1L1223.64 1188.1L1224.01 891.2L1224.39 1188.1L1224.76 1188.1L1225.14 891.2L1225.52 1188.1L1226.27 1188.1L1226.64 891.2L1227.02 1188.1L1227.39 891.2L1227.77 891.2L1228.14 949.8L1228.52 891.2L1228.89 1188.1L1229.27 949.8L1229.64 891.2L1230.02 1188.1L1230.39 949.8L1230.77 891.2L1231.14 949.8L1231.52 891.2L1231.89 1188.1L1232.27 949.8L1232.64 1188.1L1233.02 949.8L1233.39 1188.1L1233.77 1188.1L1234.14 891.2L1234.52 891.2L1234.90 949.8L1235.27 891.2L1235.65 1188.1L1236.02 949.8L1236.40 1188.1L1237.52 1188.1L1237.90 949.8L1238.27 1188.1L1239.02 1188.1L1239.40 891.2L1239.77 891.2L1240.15 1188.1L1241.27 1188.1L1241.65 891.2L1242.02 949.8L1242.40 1188.1L1242.77 1188.1L1243.15 949.8L1243.52 1188.1L1244.65 1188.1L1245.03 949.8L1245.40 1188.1L1246.53 1188.1L1246.90 891.2L1247.28 949.8L1247.65 949.8L1248.03 1188.1L1248.40 891.2L1248.78 1188.1L1249.15 891.2L1249.53 1188.1L1249.90 1188.1L1250.28 949.8L1250.65 1188.1L1251.78 1188.1L1252.15 949.8L1252.53 949.8L1252.90 1188.1L1253.28 949.8L1253.66 1188.1L1254.03 891.2L1254.41 1188.1L1255.16 1188.1L1255.53 949.8L1255.91 949.8L1256.28 1188.1L1257.03 1188.1L1257.41 949.8L1257.78 949.8L1258.16 1188.1L1258.53 1188.1L1258.91 891.2L1259.28 856.9L1259.66 1188.1L1260.03 891.2L1260.41 1188.1L1260.78 949.8L1261.91 949.8L1262.28 1188.1L1263.04 1188.1L1263.41 891.2L1263.79 1188.1L1264.16 1188.1L1264.54 856.9L1264.91 1188.1L1265.29 949.8L1265.66 1188.1L1266.41 1188.1L1266.79 949.8L1267.16 891.2L1267.54 891.2L1267.91 1188.1L1268.29 1188.1L1268.66 949.8L1269.04 1188.1L1269.41 1188.1L1269.79 949.8L1270.16 1188.1L1270.54 949.8L1270.91 1188.1L1272.04 1188.1L1272.42 891.2L1272.79 1188.1L1273.17 949.8L1273.54 949.8L1273.92 1188.1L1274.29 1188.1L1274.67 949.8L1275.04 1188.1L1275.79 1188.1L1276.17 891.2L1276.54 1188.1L1276.92 891.2L1277.29 1188.1L1278.42 1188.1L1278.79 949.8L1279.17 1188.1L1279.54 949.8L1279.92 949.8L1280.29 1188.1L1280.67 949.8L1281.04 1188.1L1281.42 1188.1L1281.80 949.8L1282.17 1188.1L1282.55 949.8L1282.92 949.8L1283.30 1188.1L1284.42 1188.1L1284.80 949.8L1285.17 891.2L1285.55 1188.1L1285.92 949.8L1286.30 1188.1L1286.67 1188.1L1287.05 949.8L1287.42 1188.1L1287.80 1188.1L1288.17 949.8L1288.55 949.8L1288.92 1188.1L1289.30 1188.1L1289.67 949.8L1290.05 949.8L1290.42 1188.1L1290.80 949.8L1291.18 856.9L1291.55 1188.1L1291.93 949.8L1292.68 949.8L1293.05 1188.1L1293.43 1188.1L1293.80 949.8L1294.18 1188.1L1294.55 949.8L1294.93 1188.1L1295.68 1188.1L1296.05 949.8L1296.43 1188.1L1297.18 1188.1L1297.55 949.8L1297.93 1188.1L1298.30 891.2L1298.68 949.8L1299.43 949.8L1299.80 1188.1L1300.18 1188.1L1300.56 891.2L1300.93 1188.1L1302.06 1188.1L1302.43 949.8L1302.81 1188.1L1303.56 1188.1L1303.93 949.8L1304.31 1188.1L1304.68 949.8L1305.06 949.8L1305.43 1188.1L1306.56 1188.1L1306.93 949.8L1307.31 1188.1L1307.68 949.8L1308.06 1188.1L1308.43 949.8L1308.81 891.2L1309.18 949.8L1309.56 1188.1L1309.94 891.2L1310.31 1188.1L1311.06 1188.1L1311.44 949.8L1311.81 949.8L1312.19 1188.1L1313.31 1188.1L1313.69 949.8L1314.06 891.2L1314.44 1188.1L1314.81 949.8L1315.19 1188.1L1315.56 1188.1L1315.94 949.8L1316.31 949.8L1316.69 1188.1L1317.81 1188.1L1318.19 949.8L1318.56 1188.1L1318.94 1188.1L1319.32 856.9L1319.69 891.2L1320.07 1188.1L1321.19 1188.1L1321.57 949.8L1322.32 949.8L1322.69 1188.1L1323.07 949.8L1323.44 949.8L1323.82 1188.1L1324.19 832.6L1324.57 1188.1L1324.94 949.8L1325.32 949.8L1325.69 891.2L1326.07 949.8L1326.44 1188.1L1326.82 1188.1L1327.19 949.8L1327.57 1188.1L1327.94 1188.1L1328.32 949.8L1328.70 1188.1L1329.07 1188.1L1329.45 856.9L1329.82 949.8L1330.20 891.2L1330.57 1188.1L1330.95 1188.1L1331.32 949.8L1331.70 949.8L1332.07 1188.1L1332.45 949.8L1332.82 856.9L1333.20 1188.1L1333.57 949.8L1334.32 949.8L1334.70 1188.1L1335.07 891.2L1335.45 949.8L1335.82 1188.1L1336.20 949.8L1336.57 1188.1L1337.32 1188.1L1337.70 949.8L1338.83 949.8L1339.20 1188.1L1339.95 1188.1L1340.33 949.8L1341.45 949.8L1341.83 1188.1L1342.20 1188.1L1342.58 949.8L1342.95 1188.1L1343.33 891.2L1343.70 949.8L1344.08 1188.1L1345.20 1188.1L1345.58 949.8L1345.95 1188.1L1346.70 1188.1L1347.08 949.8L1347.46 891.2L1347.83 1188.1L1348.21 1188.1L1348.58 891.2L1348.96 1188.1L1349.33 1188.1L1349.71 949.8L1350.08 1188.1L1350.46 1188.1L1350.83 891.2L1351.21 949.8L1351.58 1188.1L1352.71 1188.1L1353.08 949.8L1353.46 1188.1L1353.83 949.8L1354.21 1188.1L1354.58 1188.1L1354.96 949.8L1355.33 1188.1L1355.71 949.8L1356.08 949.8L1356.46 1188.1L1356.84 949.8L1357.96 949.8L1358.34 1188.1L1359.46 1188.1L1359.84 949.8L1360.21 949.8L1360.59 1188.1L1360.96 949.8L1361.34 1188.1L1361.71 949.8L1362.09 1188.1L1363.21 1188.1L1363.59 949.8L1363.96 949.8L1364.34 1188.1L1365.09 1188.1L1365.46 949.8L1365.84 1188.1L1370.34 1188.1L1370.72 949.8L1371.09 1188.1L1371.47 1188.1L1371.84 949.8L1372.22 891.2L1372.59 1188.1L1372.97 1188.1L1373.34 949.8L1373.72 949.8L1374.09 1188.1L1375.22 1188.1L1375.60 949.8L1375.97 1188.1L1377.10 1188.1L1377.47 949.8L1377.85 1188.1L1378.22 1188.1L1378.60 949.8L1378.97 1188.1L1380.10 1188.1L1380.47 949.8L1380.85 1188.1L1381.97 1188.1L1382.35 949.8L1382.72 1188.1L1383.10 1188.1L1383.47 949.8L1384.60 949.8L1384.98 1188.1L1386.10 1188.1L1386.48 949.8L1386.85 1188.1L1396.98 1188.1L1397.36 949.8L1397.73 1188.1L1398.86 1188.1L1399.23 949.8L1399.61 1188.1L1413.49 1188.1L1413.87 949.8L1414.24 1188.1L1425.12 1188.1L1425.50 949.8L1425.87 1188.1L1428.50 1188.1L1428.87 949.8L1429.25 1188.1L1437.88 1188.1L1438.25 949.8L1438.63 1188.1L1439.38 1188.1L1439.75 949.8L1440.13 1188.1L1447.26 1188.1L1447.63 949.8L1448.01 1188.1L1449.13 1188.1L1449.51 949.8L1449.88 1188.1L1451.01 1188.1L1451.39 949.8L1451.76 1188.1L1453.26 1188.1L1453.64 949.8L1454.01 1188.1L1459.64 1188.1L1460.02 949.8L1460.39 1188.1L1461.52 1188.1L1461.89 949.8L1462.27 1188.1L1485.53 1188.1L1485.90 949.8L1486.28 1188.1L1488.16 1188.1L1488.53 949.8L1488.91 1188.1L1509.17 1188.1L1509.54 949.8L1509.92 1188.1L1523.80 1188.1L1524.17 949.8L1524.55 1188.1L1575.58 1188.1L1575.95 949.8L1576.33 1188.1L1666.38 1188.1L1666.75 949.8L1667.13 1188.1L1698.27 1188.1L1698.64 949.8L1699.02 1188.1L1707.27 1188.1L1707.65 949.8L1708.02 1188.1L1724.91 1188.1L1725.28 949.8L1725.66 1188.1L1726.41 1188.1L1726.78 949.8L1727.16 1188.1L1766.93 1188.1L1767.30 949.8L1767.68 1188.1L1775.93 1188.1L1776.31 949.8L1776.68 1188.1L1795.82 1188.1" stroke="#000" stroke-width="4.05" fill="none" stroke-linejoin="round" stroke-linecap="butt"/>
<path d="M289.77 1188.1V229.2M352.80 1188.1V229.2M407.20 1188.1V229.2M434.97 1188.1V229.2M562.16 1188.1V229.2M588.05 1188.1V229.2M812.80 1188.1V229.2M1129.46 1188.1V229.2" stroke="#FF0000" stroke-width="4.01" stroke-dasharray="4.01 12.03" fill="none"/>
</g>
<rect x="275.47" y="231.20" width="28.6" height="97.6" rx="4.6" ry="4.6" fill="#fff" stroke="#000" stroke-width="2.0"/>
<text transform="translate(297.77 280.6) rotate(-90)" text-anchor="middle" font-size="22.2" fill="#000">Am−241</text>
<rect x="338.50" y="233.90" width="28.6" height="92.2" rx="4.6" ry="4.6" fill="#fff" stroke="#000" stroke-width="2.0"/>
<text transform="translate(360.80 280.6) rotate(-90)" text-anchor="middle" font-size="22.2" fill="#000">Ra−226</text>
<rect x="392.90" y="234.30" width="28.6" height="91.4" rx="4.6" ry="4.6" fill="#fff" stroke="#000" stroke-width="2.0"/>
<text transform="translate(415.20 280.6) rotate(-90)" text-anchor="middle" font-size="22.2" fill="#000">Pb−214</text>
<rect x="420.67" y="234.30" width="28.6" height="91.4" rx="4.6" ry="4.6" fill="#fff" stroke="#000" stroke-width="2.0"/>
<text transform="translate(442.97 280.6) rotate(-90)" text-anchor="middle" font-size="22.2" fill="#000">Pb−214</text>
<rect x="547.86" y="238.30" width="28.6" height="83.4" rx="4.6" ry="4.6" fill="#fff" stroke="#000" stroke-width="2.0"/>
<text transform="translate(570.16 280.6) rotate(-90)" text-anchor="middle" font-size="22.2" fill="#000">Bi−214</text>
<rect x="573.75" y="234.35" width="28.6" height="91.3" rx="4.6" ry="4.6" fill="#fff" stroke="#000" stroke-width="2.0"/>
<text transform="translate(596.05 280.6) rotate(-90)" text-anchor="middle" font-size="22.2" fill="#000">Cs−137</text>
<rect x="798.50" y="238.30" width="28.6" height="83.4" rx="4.6" ry="4.6" fill="#fff" stroke="#000" stroke-width="2.0"/>
<text transform="translate(820.80 280.6) rotate(-90)" text-anchor="middle" font-size="22.2" fill="#000">Bi−214</text>
<rect x="1115.16" y="238.30" width="28.6" height="83.4" rx="4.6" ry="4.6" fill="#fff" stroke="#000" stroke-width="2.0"/>
<text transform="translate(1137.46 280.6) rotate(-90)" text-anchor="middle" font-size="22.2" fill="#000">Bi−214</text>
<path d="M289.77 1188.1v10.4M289.77 229.2v-10.4M352.80 1188.1v10.4M352.80 229.2v-10.4M407.20 1188.1v10.4M407.20 229.2v-10.4M434.97 1188.1v10.4M434.97 229.2v-10.4M562.16 1188.1v10.4M562.16 229.2v-10.4M588.05 1188.1v10.4M588.05 229.2v-10.4M812.80 1188.1v10.4M812.80 229.2v-10.4M1129.46 1188.1v10.4M1129.46 229.2v-10.4M182.8 365.64h-10.4M182.8 560.36h-10.4M182.8 755.08h-10.4M182.8 949.80h-10.4M182.8 1144.52h-10.4" stroke="#333" stroke-width="4.05" fill="none"/>
<text transform="translate(302.27 1244.6) rotate(-90)" text-anchor="middle" font-size="33.9" fill="#4D4D4D">82</text>
<text transform="translate(290.17 172.8) rotate(-90)" text-anchor="middle" font-size="33.9" fill="#4D4D4D">60</text>
<text transform="translate(365.30 1244.6) rotate(-90)" text-anchor="middle" font-size="33.9" fill="#4D4D4D">250</text>
<text transform="translate(353.20 172.8) rotate(-90)" text-anchor="middle" font-size="33.9" fill="#4D4D4D">186</text>
<text transform="translate(419.70 1244.6) rotate(-90)" text-anchor="middle" font-size="33.9" fill="#4D4D4D">395</text>
<text transform="translate(407.60 172.8) rotate(-90)" text-anchor="middle" font-size="33.9" fill="#4D4D4D">295</text>
<text transform="translate(447.47 1244.6) rotate(-90)" text-anchor="middle" font-size="33.9" fill="#4D4D4D">469</text>
<text transform="translate(435.37 172.8) rotate(-90)" text-anchor="middle" font-size="33.9" fill="#4D4D4D">352</text>
<text transform="translate(574.66 1244.6) rotate(-90)" text-anchor="middle" font-size="33.9" fill="#4D4D4D">808</text>
<text transform="translate(562.56 172.8) rotate(-90)" text-anchor="middle" font-size="33.9" fill="#4D4D4D">609</text>
<text transform="translate(600.55 1244.6) rotate(-90)" text-anchor="middle" font-size="33.9" fill="#4D4D4D">877</text>
<text transform="translate(588.45 172.8) rotate(-90)" text-anchor="middle" font-size="33.9" fill="#4D4D4D">662</text>
<text transform="translate(825.30 1244.6) rotate(-90)" text-anchor="middle" font-size="33.9" fill="#4D4D4D">1476</text>
<text transform="translate(813.20 172.8) rotate(-90)" text-anchor="middle" font-size="33.9" fill="#4D4D4D">1120</text>
<text transform="translate(1141.96 1244.6) rotate(-90)" text-anchor="middle" font-size="33.9" fill="#4D4D4D">2320</text>
<text transform="translate(1129.86 172.8) rotate(-90)" text-anchor="middle" font-size="33.9" fill="#4D4D4D">1764</text>
<text x="164.2" y="378.34" text-anchor="end" font-size="33.9" fill="#4D4D4D">1e+03</text>
<text x="164.2" y="573.06" text-anchor="end" font-size="33.9" fill="#4D4D4D">1e+02</text>
<text x="164.2" y="767.78" text-anchor="end" font-size="33.9" fill="#4D4D4D">1e+01</text>
<text x="164.2" y="962.50" text-anchor="end" font-size="33.9" fill="#4D4D4D">1e+00</text>
<text x="164.2" y="1157.22" text-anchor="end" font-size="33.9" fill="#4D4D4D">1e−01</text>
<text x="1027.85" y="124.2" text-anchor="middle" font-size="41.8" fill="#000">Energy [keV]</text>
<text x="1027.85" y="1321.5" text-anchor="middle" font-size="41.8" fill="#000">Channel</text>
<text transform="translate(48.6 708.65) rotate(-90)" text-anchor="middle" font-size="41.8" fill="#000">Counts</text>
<text x="182.8" y="54.4" font-size="48.9" fill="#000">Energy calibration − GR1</text>
<rect x="1173.3" y="607.7" width="663.70" height="473.40" fill="#fff"/>
<rect x="1337.1" y="628.6" width="478.90" height="332.50" fill="#EBEBEB"/>
<g clip-path="url(#ic)">
<path d="M1391.42 628.6V961.1M1488.67 628.6V961.1M1585.92 628.6V961.1M1683.17 628.6V961.1M1780.42 628.6V961.1M1337.1 1000.90H1816.0M1337.1 912.10H1816.0M1337.1 823.30H1816.0M1337.1 734.50H1816.0M1337.1 645.70H1816.0" stroke="#fff" stroke-width="2.05" fill="none"/>
<path d="M1342.80 628.6V961.1M1440.05 628.6V961.1M1537.30 628.6V961.1M1634.55 628.6V961.1M1731.80 628.6V961.1M1337.1 956.50H1816.0M1337.1 867.70H1816.0M1337.1 778.90H1816.0M1337.1 690.10H1816.0" stroke="#fff" stroke-width="4.1" fill="none"/>
<circle cx="1358.75" cy="945.84" r="8.75" fill="#000"/>
<circle cx="1391.42" cy="923.47" r="8.75" fill="#000"/>
<circle cx="1419.63" cy="904.11" r="8.75" fill="#000"/>
<circle cx="1434.02" cy="893.98" r="8.75" fill="#000"/>
<circle cx="1499.96" cy="848.34" r="8.75" fill="#000"/>
<circle cx="1513.38" cy="838.93" r="8.75" fill="#000"/>
<circle cx="1629.88" cy="757.59" r="8.75" fill="#000"/>
<circle cx="1794.04" cy="643.21" r="8.75" fill="#000"/>
<path d="M1358.75 945.84L1794.04 643.21" stroke="#4682B4" stroke-width="4.0" stroke-dasharray="16.04 16.04" fill="none"/>
</g>
<path d="M1342.80 961.1v10.4M1440.05 961.1v10.4M1537.30 961.1v10.4M1634.55 961.1v10.4M1731.80 961.1v10.4M1337.1 956.50h-10.4M1337.1 867.70h-10.4M1337.1 778.90h-10.4M1337.1 690.10h-10.4" stroke="#333" stroke-width="4.05" fill="none"/>
<text x="1342.80" y="1004.1" text-anchor="middle" font-size="33.9" fill="#4D4D4D">0</text>
<text x="1440.05" y="1004.1" text-anchor="middle" font-size="33.9" fill="#4D4D4D">500</text>
<text x="1537.30" y="1004.1" text-anchor="middle" font-size="33.9" fill="#4D4D4D">1000</text>
<text x="1634.55" y="1004.1" text-anchor="middle" font-size="33.9" fill="#4D4D4D">1500</text>
<text x="1731.80" y="1004.1" text-anchor="middle" font-size="33.9" fill="#4D4D4D">2000</text>
<text x="1318.3" y="968.20" text-anchor="end" font-size="33.9" fill="#4D4D4D">0</text>
<text x="1318.3" y="879.40" text-anchor="end" font-size="33.9" fill="#4D4D4D">500</text>
<text x="1318.3" y="790.60" text-anchor="end" font-size="33.9" fill="#4D4D4D">1000</text>
<text x="1318.3" y="701.80" text-anchor="end" font-size="33.9" fill="#4D4D4D">1500</text>
<text x="1576.55" y="1051.3" text-anchor="middle" font-size="41.8" fill="#000">Channel</text>
<text transform="translate(1223.2 794.85) rotate(-90)" text-anchor="middle" font-size="41.8" fill="#000">Energy [keV]</text>
</svg>
</body></html>
